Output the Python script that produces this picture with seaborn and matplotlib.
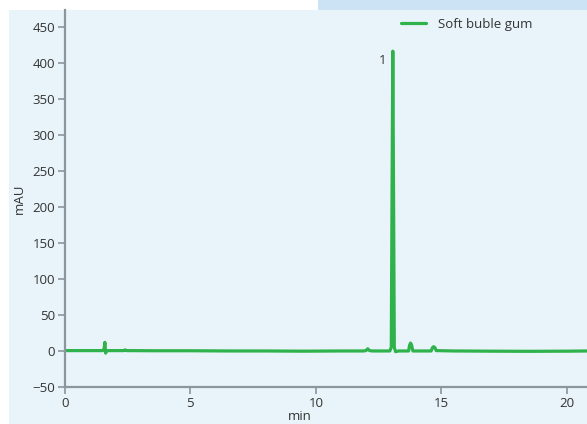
import matplotlib
matplotlib.use("Agg")
import matplotlib.pyplot as plt
import seaborn as sns
import pandas as pd
from matplotlib.patches import Rectangle

# Data
time_min = [0.0, 0.8, 1.5, 1.56, 1.59, 1.62, 1.66, 1.75, 2.35, 2.4, 2.45, 3.5, 5.0, 6.5,
            8.0, 9.5, 11.0, 11.9, 12.0, 12.07, 12.14, 12.25, 12.95, 13.01, 13.04, 13.07,
            13.10, 13.13, 13.18, 13.3, 13.7, 13.74, 13.78, 13.82, 13.87, 14.6, 14.65,
            14.7, 14.75, 14.8, 15.5, 17.0, 18.5, 20.0, 20.9]
signal_mau = [0.5, 0.5, 0.5, 3.0, 12.0, -3.0, 0.5, 0.5, 0.5, 1.5, 0.5, 0.3, 0.3, 0.0,
              0.0, -0.3, 0.0, 0.0, 0.5, 3.0, 0.5, 0.0, 0.0, 5.0, 220.0, 416.0,
              220.0, 5.0, -1.0, 0.0, 0.0, 8.0, 11.0, 8.0, 0.0, 0.0, 4.5,
              6.0, 4.5, 0.5, 0.0, -0.3, -0.5, -0.3, 0.0]
series_name = "Soft buble gum"
peak_labels = ["1"]
peak_times = [13.07]
peak_heights = [416.0]
y_ticks = [-50, 0, 50, 100, 150, 200, 250, 300, 350, 400, 450]
x_ticks = [0, 5, 10, 15, 20]

df = pd.DataFrame({"min": time_min, "mAU": signal_mau, "series": series_name})

sns.set_theme(style="white")
plt.rcParams["font.family"] = ["Open Sans", "DejaVu Sans"]

W, H = 587, 424
fig = plt.figure(figsize=(W / 100, H / 100), dpi=100, facecolor="white")

bg = "#e8f4f9"
fig.patches.append(Rectangle((9 / W, 0), 1 - 9 / W, (H - 10) / H, transform=fig.transFigure,
                             facecolor=bg, edgecolor="none", zorder=-10))
fig.patches.append(Rectangle((318 / W, (H - 10) / H), 1 - 318 / W, 10 / H, transform=fig.transFigure,
                             facecolor="#cce3f6", edgecolor="none", zorder=-10))

ax_left, ax_right, ax_top, ax_bottom = 65, 587, 10, 387
ax = fig.add_axes([ax_left / W, 1 - ax_bottom / H, (ax_right - ax_left) / W, (ax_bottom - ax_top) / H])
ax.set_zorder(5)
ax.set_facecolor(bg)

sns.lineplot(data=df, x="min", y="mAU", hue="series", palette=["#2fb24b"], linewidth=2.3,
             ax=ax, sort=False, estimator=None)

xmax = (587 - 65) / 125.4 * 5
ax.set_xlim(0, xmax)
ax.set_ylim(-50, -50 + (387 - 10) / 0.7207)
ax.set_xticks(x_ticks)
ax.set_yticks(y_ticks)

for s in ["top", "right"]:
    ax.spines[s].set_visible(False)
for s in ["left", "bottom"]:
    ax.spines[s].set_color("#8c959d")
    ax.spines[s].set_linewidth(1.6)
ax.tick_params(axis="both", direction="out", length=5, width=1.2, color="#8c959d",
               labelsize=9.5, labelcolor="#333333", left=True, bottom=True, pad=2)

ax.set_xlabel("min", fontsize=9.5, color="#333333")
ax.xaxis.set_label_coords((300 - ax_left) / (ax_right - ax_left), -(410 - ax_bottom) / (ax_bottom - ax_top))
ax.set_ylabel("mAU", fontsize=9.5, color="#333333", labelpad=5)

for lab, t, h in zip(peak_labels, peak_times, peak_heights):
    ax.annotate(lab, (t, h), xytext=(-5, -7), textcoords="offset points",
                ha="right", va="center", fontsize=9.5, color="#333333")

leg = ax.legend(loc="upper right", bbox_to_anchor=(0.919, 1.01),
                frameon=False, fontsize=9.5, handlelength=1.9, handletextpad=0.9)
for line in leg.get_lines():
    line.set_linewidth(2.3)
for t in leg.get_texts():
    t.set_color("#333333")

fig.savefig("out.png", dpi=100, facecolor="white")
